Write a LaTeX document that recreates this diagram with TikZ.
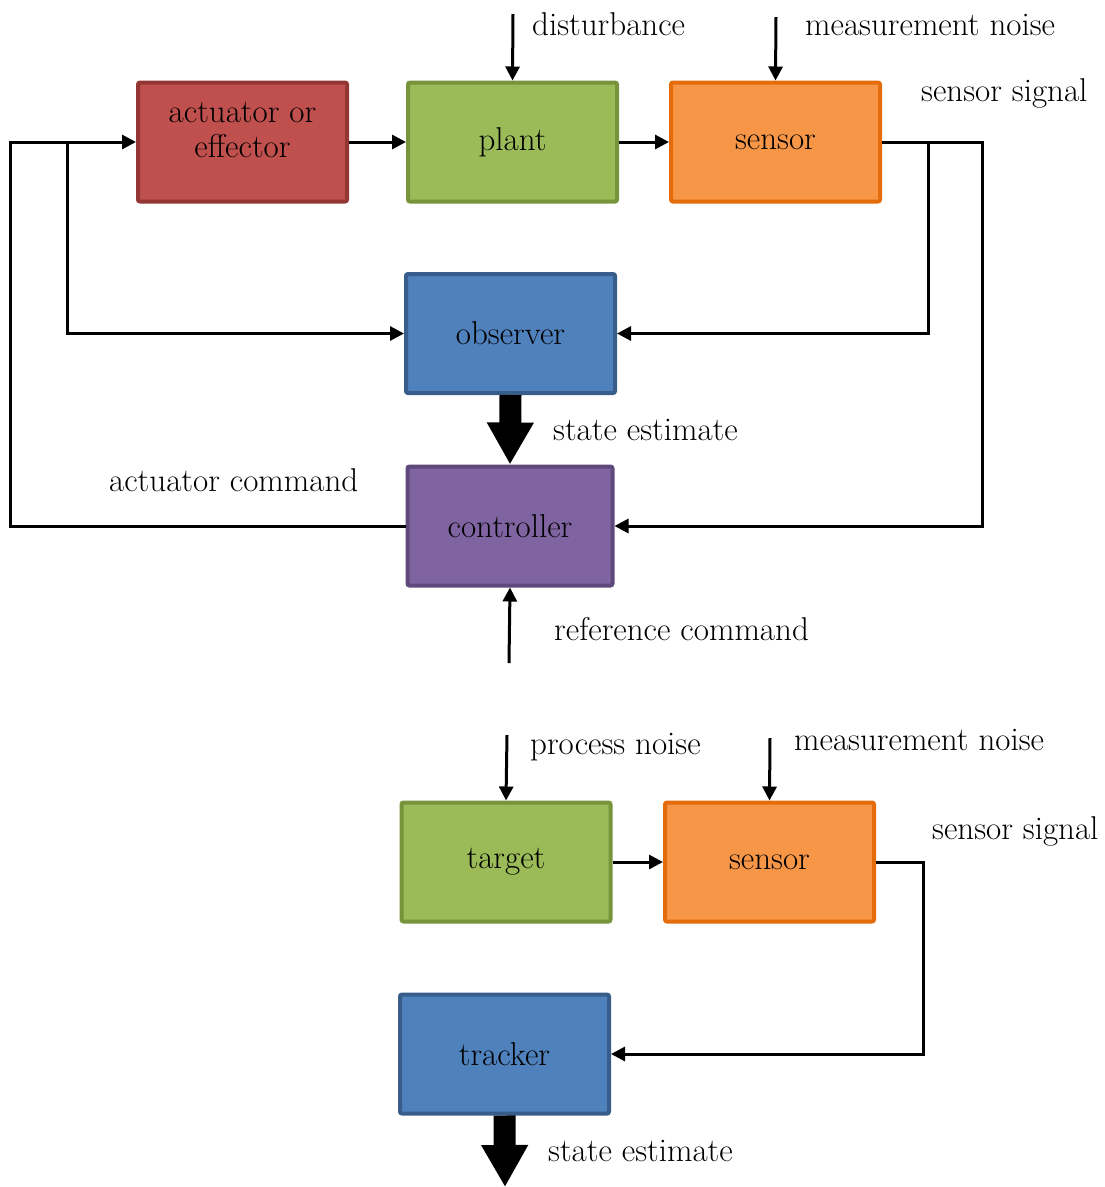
\documentclass[tikz,border=0pt]{standalone}
\usepackage{fontspec}
\usetikzlibrary{arrows.meta}
\definecolor{redF}{HTML}{C0504D}\definecolor{redB}{HTML}{943634}
\definecolor{grnF}{HTML}{9BBB59}\definecolor{grnB}{HTML}{77933C}
\definecolor{orgF}{HTML}{F79646}\definecolor{orgB}{HTML}{E46C0A}
\definecolor{bluF}{HTML}{4F81BD}\definecolor{bluB}{HTML}{385D8A}
\definecolor{purF}{HTML}{8064A2}\definecolor{purB}{HTML}{5F497A}
\begin{document}
\begin{tikzpicture}[x=1pt,y=-1pt,
  font=\fontsize{33}{35}\selectfont,
  block/.style={draw, line width=4pt, minimum width=209pt, minimum height=119pt,
    rounded corners=2pt, align=center, inner sep=0pt},
  redbox/.style={block, fill=redF, draw=redB},
  grnbox/.style={block, fill=grnF, draw=grnB},
  orgbox/.style={block, fill=orgF, draw=orgB},
  blubox/.style={block, fill=bluF, draw=bluB},
  purbox/.style={block, fill=purF, draw=purB},
  arr/.style={line width=3pt, -{Triangle[length=14pt,width=14pt]}},
  fat/.style={line width=22pt, -{Triangle[length=42pt,width=44pt]}},
  lbl/.style={anchor=base west, inner sep=0pt}]
\useasboundingbox (0,0) rectangle (1105,1187);

% upper loop: control system
\node[redbox] (act)   at (242.5,142)
  {\raisebox{3pt}[0pt][0pt]{\begin{tabular}{@{}c@{}}actuator or\\effector\end{tabular}}};
\node[grnbox] (plant) at (512.5,142) {plant};
\node[orgbox] (sens)  at (775.5,142) {sensor};
\node[blubox] (obs)   at (510.5,333.5) {observer};
\node[purbox, minimum width=205pt] (ctl) at (510,526) {controller};

\coordinate (dist)   at (513,14);
\coordinate (mnoise) at (776,17);
\coordinate (ref)    at (509,663);
\coordinate (jR)     at (982,142);
\coordinate (jR2)    at (928,142);
\coordinate (jL)     at (10,142);
\coordinate (jL2)    at (67,142);

\draw[arr] (dist) -- (plant.north);
\draw[arr] (mnoise) -- (sens.north);
\draw[arr] (act.east) -- (plant.west);
\draw[arr] (plant.east) -- (sens.west);
\draw[arr] (sens.east) -- (jR) |- (ctl.east);
\draw[arr] (jR2) |- (obs.east);
\draw[arr] (ctl.west) -| (jL) -- (act.west);
\draw[arr] (jL2) |- (obs.west);
\draw[fat] (obs.south) -- (ctl.north);
\draw[arr] (ref) -- (ctl.south);

\node[lbl] (tDist)  at (532,35)  {disturbance};
\node[lbl] (tNoise) at (805,35)  {measurement noise};
\node[lbl] (tSig)   at (921,101) {sensor signal};
\node[lbl] (tEst)   at (553,440) {state estimate};
\node[lbl] (tCmd)   at (109,491) {actuator command};
\node[lbl] (tRef)   at (554,640) {reference command};

% lower chain: tracking system
\node[grnbox] (tgt)   at (506,862)    {target};
\node[orgbox] (sens2) at (769.5,862)  {sensor};
\node[blubox] (trk)   at (504.5,1054) {tracker};

\coordinate (pnoise)  at (507,735);
\coordinate (mnoise2) at (770,738);
\coordinate (jB)      at (923,862);
\coordinate (outEst)  at (505,1187);

\draw[arr] (pnoise) -- (tgt.north);
\draw[arr] (mnoise2) -- (sens2.north);
\draw[arr] (tgt.east) -- (sens2.west);
\draw[arr] (sens2.east) -- (jB) |- (trk.east);
\draw[fat] (trk.south) -- (outEst);

\node[lbl] (tPn)   at (530,754)  {process noise};
\node[lbl] (tMn2)  at (794,750)  {measurement noise};
\node[lbl] (tSig2) at (932,839)  {sensor signal};
\node[lbl] (tEst2) at (548,1161) {state estimate};
\end{tikzpicture}
\end{document}
